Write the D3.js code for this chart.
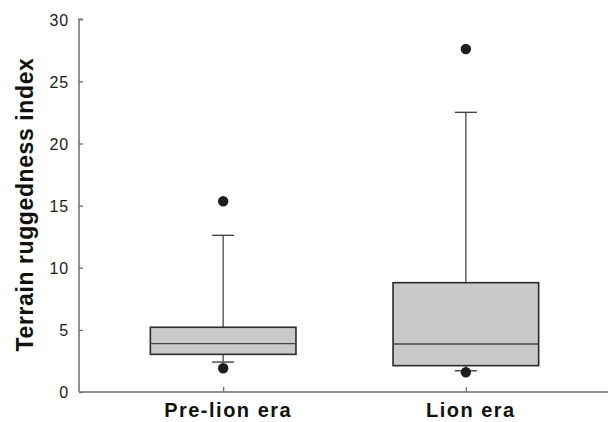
<!DOCTYPE html>
<html><head><meta charset="utf-8">
<script src="https://cdn.jsdelivr.net/npm/d3@7"></script>
<style>body{margin:0;background:#fff}svg{display:block}</style>
</head><body>
<svg id="c" width="611" height="422"></svg>
<script>
const categories = ["Pre-lion era", "Lion era"];
const q1 = [3.03, 2.12];
const medians = [3.89, 3.86];
const q3 = [5.21, 8.80];
const whiskerLow = [2.41, 1.71];
const whiskerHigh = [12.61, 22.51];
const outliers = [[15.35, 1.91], [27.61, 1.59]];
const yTicks = [0, 5, 10, 15, 20, 25, 30];
const yLabel = "Terrain ruggedness index";

const svg = d3.select("#c");
const x = d3.scalePoint().domain(categories).range([79, 610]).padding(0.594);
const y = d3.scaleLinear().domain([0, 30]).range([392, 19.3]);
const boxW = x.step() * 0.6, capW = 22;
const axisCol = "#6e6e6e", lineCol = "#2a2a2a";

// axes
const yAxis = svg.append("g").attr("transform", "translate(79,0)")
  .call(d3.axisRight(y).tickValues(yTicks).tickSize(4).tickFormat(d3.format("d")));
yAxis.select(".domain").attr("stroke", axisCol).attr("stroke-width", 1.5).attr("d", `M4,${y(30)}H0V${y(0)}`);
yAxis.selectAll(".tick line").attr("stroke", axisCol).attr("stroke-width", 1.3);
yAxis.selectAll(".tick text").attr("x", -10).attr("text-anchor", "end").attr("dy", "0.36em")
  .attr("fill", "#1a1a1a").style("font", "16px 'Liberation Sans', Arial, sans-serif").style("letter-spacing", "0.8px");

const xAxis = svg.append("g").attr("transform", `translate(0,${y(0)})`)
  .call(d3.axisTop(x).tickSize(5).tickFormat(""));
xAxis.select(".domain").attr("stroke", axisCol).attr("stroke-width", 1.5).attr("d", `M79,0H608`);
xAxis.selectAll(".tick line").attr("stroke", axisCol).attr("stroke-width", 1.3);

svg.append("g").selectAll("text").data(categories).join("text")
  .attr("x", d => x(d) + 5).attr("y", 417).attr("text-anchor", "middle")
  .attr("fill", "#111").style("font", "bold 20px 'Liberation Sans', Arial, sans-serif")
  .style("letter-spacing", "1.5px").text(d => d);

svg.append("text").attr("transform", `translate(33,${(352 + 57) / 2}) rotate(-90)`)
  .attr("text-anchor", "middle").attr("fill", "#111")
  .style("font", "bold 23px 'Liberation Sans', Arial, sans-serif").style("letter-spacing", "0.6px")
  .text(yLabel);

// boxes
const g = svg.append("g");
categories.forEach((c, i) => {
  const cx = x(c);
  g.append("line").attr("x1", cx).attr("x2", cx).attr("y1", y(q3[i])).attr("y2", y(whiskerHigh[i]))
    .attr("stroke", "#555").attr("stroke-width", 1.4);
  g.append("line").attr("x1", cx).attr("x2", cx).attr("y1", y(q1[i])).attr("y2", y(whiskerLow[i]))
    .attr("stroke", "#555").attr("stroke-width", 1.4);
  [whiskerHigh[i], whiskerLow[i]].forEach(v => {
    g.append("line").attr("x1", cx - capW / 2).attr("x2", cx + capW / 2).attr("y1", y(v)).attr("y2", y(v))
      .attr("stroke", "#444").attr("stroke-width", 1.4);
  });
  g.append("rect").attr("x", cx - boxW / 2).attr("width", boxW)
    .attr("y", y(q3[i])).attr("height", y(q1[i]) - y(q3[i]))
    .attr("fill", "#c8c9cb").attr("stroke", lineCol).attr("stroke-width", 1.6);
  g.append("line").attr("x1", cx - boxW / 2).attr("x2", cx + boxW / 2)
    .attr("y1", y(medians[i])).attr("y2", y(medians[i]))
    .attr("stroke", "#444").attr("stroke-width", 1.4);
  outliers[i].forEach(v => {
    g.append("circle").attr("cx", cx).attr("cy", y(v)).attr("r", 5.2).attr("fill", "#1e1e1e");
  });
});
</script>
</body></html>
